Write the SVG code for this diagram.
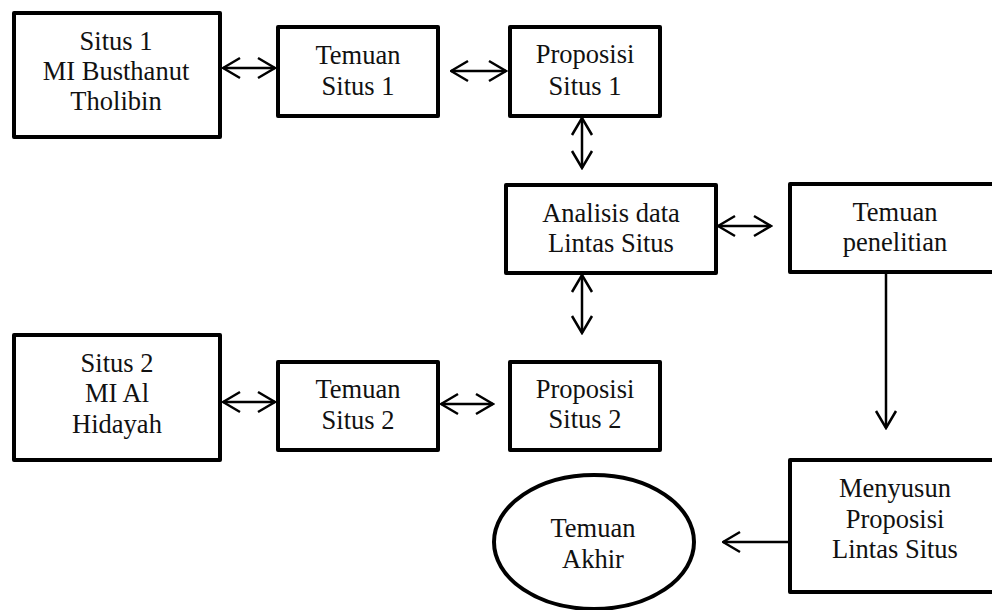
<svg xmlns="http://www.w3.org/2000/svg" width="992" height="610" viewBox="0 0 992 610">
<style>
.box{fill:#fff;stroke:#000;stroke-width:4;stroke-linejoin:round}
.t{font-family:"Liberation Serif","Times New Roman",serif;font-size:26.5px;fill:#111;text-anchor:middle}
.c{stroke:#000;stroke-width:2.5;fill:none}
</style>
<defs>
<marker id="ah" viewBox="0 0 20 24" refX="18.5" refY="12" markerWidth="20" markerHeight="24" markerUnits="userSpaceOnUse" orient="auto-start-reverse">
<path d="M1.5,2 L18.5,12 L1.5,22" fill="none" stroke="#000" stroke-width="2.5"/>
</marker>
</defs>
<rect width="992" height="610" fill="#fff"/>
<g id="connectors">
<line class="c" x1="223" y1="68" x2="275" y2="68" marker-start="url(#ah)" marker-end="url(#ah)"/>
<line class="c" x1="451" y1="71" x2="506" y2="71" marker-start="url(#ah)" marker-end="url(#ah)"/>
<line class="c" x1="582" y1="118" x2="582" y2="168" marker-start="url(#ah)" marker-end="url(#ah)"/>
<line class="c" x1="718" y1="226" x2="771" y2="226" marker-start="url(#ah)" marker-end="url(#ah)"/>
<line class="c" x1="582" y1="275" x2="582" y2="333" marker-start="url(#ah)" marker-end="url(#ah)"/>
<line class="c" x1="886" y1="274" x2="886" y2="428" marker-end="url(#ah)"/>
<line class="c" x1="789" y1="542" x2="723" y2="542" marker-end="url(#ah)"/>
<line class="c" x1="223" y1="402" x2="275" y2="402" marker-start="url(#ah)" marker-end="url(#ah)"/>
<line class="c" x1="441" y1="404" x2="493" y2="404" marker-start="url(#ah)" marker-end="url(#ah)"/>
</g>
<g id="situs1">
<rect class="box" x="14" y="13" width="206" height="124"/>
<text class="t" x="116" y="50">Situs 1</text>
<text class="t" x="116" y="80">MI Busthanut</text>
<text class="t" x="116" y="110">Tholibin</text>
</g>
<g id="temuan1">
<rect class="box" x="278" y="27" width="160" height="89"/>
<text class="t" x="358" y="64">Temuan</text>
<text class="t" x="358" y="95">Situs 1</text>
</g>
<g id="proposisi1">
<rect class="box" x="510" y="27" width="150" height="89"/>
<text class="t" x="585" y="63">Proposisi</text>
<text class="t" x="585" y="95">Situs 1</text>
</g>
<g id="analisis">
<rect class="box" x="506" y="185" width="210" height="88"/>
<text class="t" x="611" y="222">Analisis data</text>
<text class="t" x="611" y="252">Lintas Situs</text>
</g>
<g id="temuan-penelitian">
<rect class="box" x="790" y="184" width="215" height="88"/>
<text class="t" x="895" y="221">Temuan</text>
<text class="t" x="895" y="251">penelitian</text>
</g>
<g id="situs2">
<rect class="box" x="14" y="335" width="206" height="125"/>
<text class="t" x="117" y="372">Situs 2</text>
<text class="t" x="117" y="402">MI Al</text>
<text class="t" x="117" y="433">Hidayah</text>
</g>
<g id="temuan2">
<rect class="box" x="278" y="362" width="160" height="88"/>
<text class="t" x="358" y="398">Temuan</text>
<text class="t" x="358" y="429">Situs 2</text>
</g>
<g id="proposisi2">
<rect class="box" x="510" y="362" width="150" height="88"/>
<text class="t" x="585" y="398">Proposisi</text>
<text class="t" x="585" y="428">Situs 2</text>
</g>
<g id="menyusun">
<rect class="box" x="790" y="460" width="215" height="132"/>
<text class="t" x="895" y="497">Menyusun</text>
<text class="t" x="895" y="528">Proposisi</text>
<text class="t" x="895" y="558">Lintas Situs</text>
</g>
<g id="temuan-akhir">
<ellipse class="box" cx="594" cy="542" rx="100" ry="67"/>
<text class="t" x="593" y="537">Temuan</text>
<text class="t" x="593" y="568">Akhir</text>
</g>
</svg>
